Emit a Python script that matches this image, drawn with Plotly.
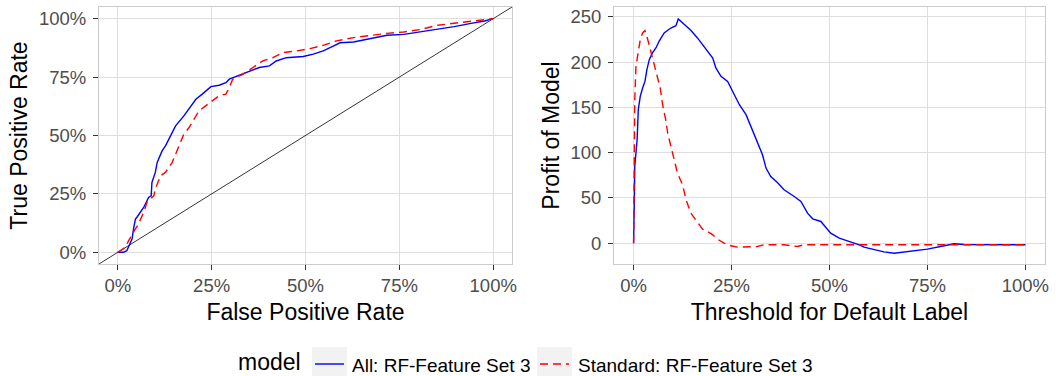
import plotly.graph_objects as go

# ---------------- data ----------------
roc_all_fpr = [0.0, 0.015, 0.024, 0.029, 0.038, 0.042, 0.047, 0.051, 0.060, 0.069, 0.082, 0.089, 0.091,
               0.100, 0.105, 0.118, 0.127, 0.136, 0.145, 0.154, 0.176, 0.190, 0.199, 0.208, 0.225, 0.248,
               0.270, 0.288, 0.297, 0.324, 0.351, 0.377, 0.404, 0.422, 0.449, 0.494, 0.521, 0.547, 0.574,
               0.592, 0.628, 0.673, 0.717, 0.762, 0.807, 0.852, 0.896, 0.941, 0.977, 1.0]
roc_all_tpr = [0.0, 0.0, 0.007, 0.028, 0.057, 0.100, 0.142, 0.150, 0.171, 0.192, 0.235, 0.242, 0.299,
               0.342, 0.385, 0.434, 0.456, 0.484, 0.513, 0.541, 0.584, 0.613, 0.634, 0.655, 0.677, 0.709,
               0.715, 0.726, 0.741, 0.758, 0.776, 0.791, 0.798, 0.819, 0.833, 0.838, 0.848, 0.862, 0.883,
               0.897, 0.900, 0.915, 0.929, 0.933, 0.943, 0.954, 0.966, 0.980, 0.990, 1.0]

roc_std_fpr = [0.0, 0.020, 0.029, 0.038, 0.047, 0.055, 0.069, 0.078, 0.087, 0.096, 0.100, 0.105, 0.114,
               0.127, 0.145, 0.154, 0.163, 0.176, 0.190, 0.203, 0.216, 0.234, 0.252, 0.270, 0.288, 0.297,
               0.306, 0.333, 0.360, 0.386, 0.413, 0.440, 0.476, 0.512, 0.547, 0.583, 0.628, 0.673, 0.717,
               0.762, 0.807, 0.852, 0.896, 0.941, 1.0]
roc_std_tpr = [0.0, 0.021, 0.050, 0.078, 0.100, 0.121, 0.171, 0.214, 0.228, 0.242, 0.271, 0.292, 0.328,
               0.342, 0.385, 0.420, 0.456, 0.506, 0.534, 0.570, 0.605, 0.627, 0.648, 0.670, 0.677, 0.705,
               0.741, 0.762, 0.791, 0.819, 0.833, 0.855, 0.862, 0.872, 0.886, 0.905, 0.919, 0.929, 0.937,
               0.943, 0.954, 0.972, 0.980, 0.990, 1.0]

profit_all_thr = [0.0, 0.001, 0.002, 0.003, 0.009, 0.012, 0.017, 0.023, 0.029, 0.034, 0.040, 0.048, 0.057,
                  0.065, 0.078, 0.095, 0.108, 0.114, 0.129, 0.146, 0.163, 0.180, 0.202, 0.210, 0.223, 0.240,
                  0.257, 0.270, 0.287, 0.299, 0.312, 0.329, 0.338, 0.350, 0.367, 0.384, 0.410, 0.427, 0.444,
                  0.457, 0.478, 0.491, 0.503, 0.525, 0.554, 0.576, 0.588, 0.614, 0.639, 0.665, 0.690, 0.716,
                  0.750, 0.793, 0.818, 0.844, 1.0]
profit_all_val = [0.0, 14.7, 47.9, 84.8, 114.3, 147.5, 162.2, 171.5, 178.8, 191.7, 202.8, 210.2, 215.7,
                  223.1, 232.3, 237.8, 240.4, 247.8, 241.5, 235.3, 226.8, 217.5, 204.6, 193.6, 184.4, 178.8,
                  164.1, 153.0, 142.0, 129.1, 114.3, 97.7, 83.0, 73.7, 67.1, 59.0, 51.6, 46.1, 33.2,
                  26.9, 24.0, 16.6, 11.1, 5.5, 1.8, -1.8, -4.4, -7.4, -9.6, -11.1, -10.0, -8.5,
                  -6.6, -2.9, -0.7, -1.5, -1.8]

profit_std_thr = [0.0, 0.001, 0.002, 0.003, 0.006, 0.010, 0.017, 0.023, 0.029, 0.034, 0.043, 0.051, 0.059,
                  0.068, 0.074, 0.082, 0.087, 0.095, 0.104, 0.112, 0.125, 0.134, 0.146, 0.163, 0.176, 0.189,
                  0.202, 0.214, 0.231, 0.248, 0.265, 0.316, 0.333, 0.384, 0.418, 0.435, 1.0]
profit_std_val = [0.0, 47.9, 110.6, 158.6, 195.4, 206.5, 224.9, 232.3, 234.9, 228.6, 213.9, 201.0, 188.1,
                  171.5, 153.0, 136.4, 121.7, 106.9, 92.2, 77.4, 64.5, 47.9, 33.2, 22.9, 15.5, 12.9,
                  9.2, 4.4, 0.0, -2.9, -4.4, -3.7, -1.8, -1.8, -3.7, -1.8, -1.8]

model_names = ["All: RF-Feature Set 3", "Standard: RF-Feature Set 3"]
model_colors = ["#0000FF", "#FF0000"]
model_dash = ["solid", "8px,5px"]
legend_title = "model"

pct_ticks = [0, 0.25, 0.5, 0.75, 1.0]
profit_ticks = [0, 50, 100, 150, 200, 250]
ratio_range = [-0.05, 1.05]
profit_range = [-23, 261]

# ---------------- figure ----------------
W, H = 1056, 376
FONT = "Liberation Sans, Arial, sans-serif"
fig = go.Figure()

# diagonal reference line y = x across the full panel
fig.add_trace(go.Scatter(x=ratio_range, y=ratio_range, mode="lines",
                         line=dict(color="black", width=0.8), showlegend=False,
                         hoverinfo="skip", xaxis="x", yaxis="y"))

roc = [(roc_all_fpr, roc_all_tpr), (roc_std_fpr, roc_std_tpr)]
prof = [(profit_all_thr, profit_all_val), (profit_std_thr, profit_std_val)]
for i in range(2):
    fig.add_trace(go.Scatter(x=roc[i][0], y=roc[i][1], mode="lines", name=model_names[i],
                             legendgroup=model_names[i], showlegend=False,
                             line=dict(color=model_colors[i], width=1.4, dash=model_dash[i]),
                             xaxis="x", yaxis="y"))
for i in range(2):
    fig.add_trace(go.Scatter(x=prof[i][0], y=prof[i][1], mode="lines", name=model_names[i],
                             legendgroup=model_names[i], showlegend=False,
                             line=dict(color=model_colors[i], width=1.4, dash=model_dash[i]),
                             xaxis="x2", yaxis="y2"))

def px_dom(a, b, total):
    return [a / total, b / total]

ydom = [1 - 264 / H, 1 - 7 / H]
axis_common = dict(showline=True, mirror=True, linecolor="#CCCCCC", linewidth=1,
                   showgrid=True, gridcolor="#DEDEDE", gridwidth=1, zeroline=False,
                   ticks="outside", ticklen=5, tickcolor="#333333", tickwidth=1, automargin=False,
                   tickfont=dict(family=FONT, size=18.5, color="#4D4D4D"))
title_font = dict(family=FONT, size=23, color="black")

fig.update_layout(
    width=W, height=H, margin=dict(l=0, r=0, t=0, b=0, autoexpand=False),
    paper_bgcolor="white", plot_bgcolor="white",
    font=dict(family=FONT), showlegend=False,
    xaxis=dict(domain=px_dom(99, 512, W), range=ratio_range, tickvals=pct_ticks, tickformat=".0%",
               title=dict(text="False Positive Rate", font=title_font, standoff=8),
               anchor="y", **axis_common),
    yaxis=dict(domain=ydom, range=ratio_range, tickvals=pct_ticks, tickformat=".0%",
               title=dict(text="True Positive Rate", font=title_font, standoff=4),
               ticklabelstandoff=3, anchor="x", **axis_common),
    xaxis2=dict(domain=px_dom(614, 1045, W), range=ratio_range, tickvals=pct_ticks, tickformat=".0%",
                title=dict(text="Threshold for Default Label", font=title_font, standoff=8),
                anchor="y2", **axis_common),
    yaxis2=dict(domain=ydom, range=profit_range, tickvals=profit_ticks,
                title=dict(text="Profit of Model", font=title_font, standoff=4),
                ticklabelstandoff=3, anchor="x2", **axis_common),
)

# ---------------- manual legend (ggplot style, bottom) ----------------
def px(xp):
    return xp / W

def py(yp):
    return 1 - yp / H

leg_y = 365
fig.add_annotation(text=legend_title, xref="paper", yref="paper", x=px(237), y=py(376),
                   xanchor="left", yanchor="bottom", showarrow=False, borderpad=0,
                   font=dict(family=FONT, size=23, color="black"))
key_left = [312, 537]
text_left = [350, 576]
for i in range(2):
    fig.add_shape(type="rect", xref="paper", yref="paper",
                  x0=px(key_left[i]), x1=px(key_left[i] + 35), y0=py(376), y1=py(347),
                  fillcolor="#F2F2F2", line=dict(width=0), layer="below")
    fig.add_shape(type="line", xref="paper", yref="paper",
                  x0=px(key_left[i] + 3), x1=px(key_left[i] + 32), y0=py(leg_y - 1), y1=py(leg_y - 1),
                  line=dict(color=model_colors[i], width=1.4, dash=model_dash[i]))
    fig.add_annotation(text=model_names[i], xref="paper", yref="paper", x=px(text_left[i]), y=py(leg_y),
                       xanchor="left", yanchor="middle", showarrow=False,
                       font=dict(family=FONT, size=19, color="black"))

fig.write_html("out.html", config={"displayModeBar": False},
               post_script="document.body.style.margin='0';document.body.style.padding='0';"
                           "document.body.style.overflow='hidden';")
